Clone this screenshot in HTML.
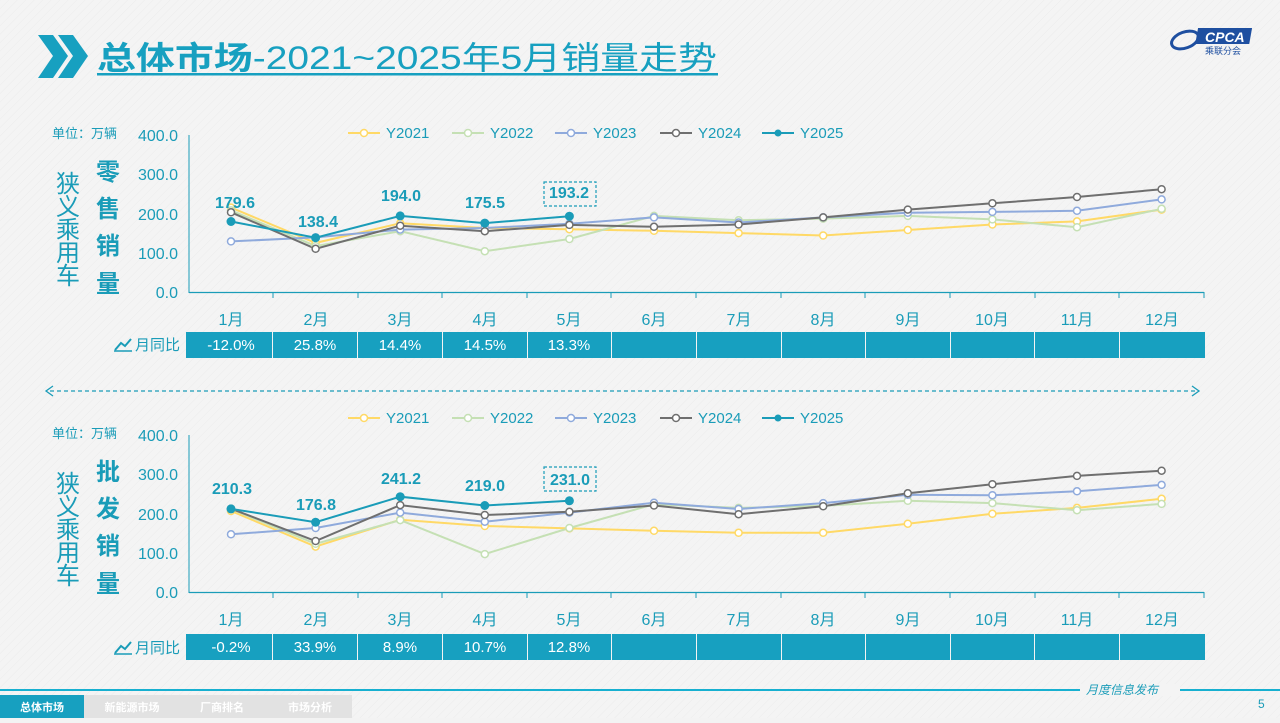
<!DOCTYPE html>
<html><head><meta charset="utf-8"><style>
html,body{margin:0;padding:0;}
body{width:1280px;height:718px;overflow:hidden;background:#f3f3f3;font-family:"Liberation Sans","Noto Sans CJK SC",sans-serif;}
svg text{font-family:"Liberation Sans","Noto Sans CJK SC",sans-serif;}
</style></head><body>
<svg width="1280" height="718" viewBox="0 0 1280 718" xmlns="http://www.w3.org/2000/svg">
<defs>
<pattern id="dg" width="6" height="6" patternUnits="userSpaceOnUse" patternTransform="rotate(-45)"><rect width="6" height="6" fill="#f4f4f4"/><line x1="0" y1="0" x2="6" y2="0" stroke="#ececec" stroke-width="1"/></pattern>
</defs>
<rect width="1280" height="718" fill="url(#dg)"/>
<polygon points="38,35 53,35 68,56 53,78 38,78 53,56" fill="#17a0c0"/>
<polygon points="58,35 73,35 88,56 73,78 58,78 73,56" fill="#17a0c0"/>
<text x="97" y="69" font-size="32" fill="#17a0c0" textLength="620" lengthAdjust="spacingAndGlyphs"><tspan font-weight="bold">总体市场</tspan>-2021~2025年5月销量走势</text>
<rect x="97" y="73" width="621" height="2.5" fill="#17a0c0"/>
<ellipse cx="1185" cy="40" rx="14" ry="8" fill="none" stroke="#1e4fa0" stroke-width="3" transform="rotate(-20 1185 40)"/>
<rect x="1203" y="28" width="54" height="16" fill="#1e4fa0" transform="skewX(-10)"/>
<text x="1205" y="42" font-size="14" font-style="italic" fill="#fff" font-weight="bold">CPCA</text>
<text x="1205" y="54" font-size="9" fill="#1e4fa0">乘联分会</text>

<g font-size="16" fill="#1a9cb8">
<text x="52" y="138" font-size="13">单位：万辆</text>
<text x="178" y="141" text-anchor="end">400.0</text>
<text x="178" y="180" text-anchor="end">300.0</text>
<text x="178" y="220" text-anchor="end">200.0</text>
<text x="178" y="259" text-anchor="end">100.0</text>
<text x="178" y="298" text-anchor="end">0.0</text>
</g>
<g font-size="24" fill="#1a9cb8" text-anchor="middle">
<text x="68" y="192">狭</text><text x="68" y="215">义</text><text x="68" y="238">乘</text><text x="68" y="261">用</text><text x="68" y="284">车</text>
<text x="108" y="180" font-weight="bold">零</text><text x="108" y="217" font-weight="bold">售</text><text x="108" y="254" font-weight="bold">销</text><text x="108" y="292" font-weight="bold">量</text>
</g>
<line x1="189" y1="135" x2="189" y2="293" stroke="#1a9cb8" stroke-width="1"/>
<line x1="189" y1="292.5" x2="1204" y2="292.5" stroke="#1a9cb8" stroke-width="1.2"/>
<g stroke="#1a9cb8"><line x1="273" y1="292" x2="273" y2="298"/><line x1="358" y1="292" x2="358" y2="298"/><line x1="442" y1="292" x2="442" y2="298"/><line x1="527" y1="292" x2="527" y2="298"/><line x1="611" y1="292" x2="611" y2="298"/><line x1="696" y1="292" x2="696" y2="298"/><line x1="781" y1="292" x2="781" y2="298"/><line x1="865" y1="292" x2="865" y2="298"/><line x1="950" y1="292" x2="950" y2="298"/><line x1="1035" y1="292" x2="1035" y2="298"/><line x1="1119" y1="292" x2="1119" y2="298"/><line x1="1204" y1="292" x2="1204" y2="298"/></g>
<g font-size="16" fill="#1a9cb8" text-anchor="middle">
<text x="231" y="325">1月</text><text x="316" y="325">2月</text><text x="400" y="325">3月</text><text x="485" y="325">4月</text><text x="569" y="325">5月</text><text x="654" y="325">6月</text><text x="739" y="325">7月</text><text x="823" y="325">8月</text><text x="908" y="325">9月</text><text x="992" y="325">10月</text><text x="1077" y="325">11月</text><text x="1162" y="325">12月</text>
</g>
<g font-size="15" fill="#1a9cb8">
<line x1="348" y1="133" x2="380" y2="133" stroke="#ffd966" stroke-width="2"/><circle cx="364" cy="133" r="3.5" fill="#fff" stroke="#ffd966" stroke-width="1.5"/><text x="386" y="138">Y2021</text>
<line x1="452" y1="133" x2="484" y2="133" stroke="#c5e0b4" stroke-width="2"/><circle cx="468" cy="133" r="3.5" fill="#fff" stroke="#c5e0b4" stroke-width="1.5"/><text x="490" y="138">Y2022</text>
<line x1="555" y1="133" x2="587" y2="133" stroke="#8faadc" stroke-width="2"/><circle cx="571" cy="133" r="3.5" fill="#fff" stroke="#8faadc" stroke-width="1.5"/><text x="593" y="138">Y2023</text>
<line x1="660" y1="133" x2="692" y2="133" stroke="#6f6f6f" stroke-width="2"/><circle cx="676" cy="133" r="3.5" fill="#fff" stroke="#6f6f6f" stroke-width="1.5"/><text x="698" y="138">Y2024</text>
<line x1="762" y1="133" x2="794" y2="133" stroke="#1a9cb8" stroke-width="2"/><circle cx="778" cy="133" r="3.5" fill="#1a9cb8"/><text x="800" y="138">Y2025</text>
</g>
<g fill="none" stroke-width="2">
<polyline stroke="#ffd966" points="231,207.6 315.6,242.9 400.2,223.3 484.8,228 569.4,229.2 654,230.8 738.6,233.1 823.2,235.5 907.8,230 992.4,224.5 1077,221.4 1161.6,209.6"/>
<polyline stroke="#c5e0b4" points="231,210.4 315.6,246.1 400.2,231.2 484.8,251.2 569.4,239 654,215.9 738.6,220.2 823.2,218.6 907.8,215.9 992.4,219.4 1077,227.2 1161.6,208.8"/>
<polyline stroke="#8faadc" points="231,241.4 315.6,237.4 400.2,229.6 484.8,228 569.4,223.7 654,217.4 738.6,222.5 823.2,217.4 907.8,212.7 992.4,211.9 1077,210.8 1161.6,199.4"/>
<polyline stroke="#6f6f6f" points="231,212.3 315.6,248.8 400.2,225.7 484.8,231.2 569.4,224.9 654,226.8 738.6,224.5 823.2,217.4 907.8,209.6 992.4,203.3 1077,197 1161.6,189.2"/>
<polyline stroke="#1a9cb8" points="231,221.5 315.6,237.7 400.2,215.9 484.8,223.1 569.4,216.2"/>
</g>
<g fill="#fff" stroke-width="1.5">
<g stroke="#ffd966"><circle cx="231" cy="207.6" r="3.5"/><circle cx="315.6" cy="242.9" r="3.5"/><circle cx="400.2" cy="223.3" r="3.5"/><circle cx="484.8" cy="228" r="3.5"/><circle cx="569.4" cy="229.2" r="3.5"/><circle cx="654" cy="230.8" r="3.5"/><circle cx="738.6" cy="233.1" r="3.5"/><circle cx="823.2" cy="235.5" r="3.5"/><circle cx="907.8" cy="230" r="3.5"/><circle cx="992.4" cy="224.5" r="3.5"/><circle cx="1077" cy="221.4" r="3.5"/><circle cx="1161.6" cy="209.6" r="3.5"/></g>
<g stroke="#c5e0b4"><circle cx="231" cy="210.4" r="3.5"/><circle cx="315.6" cy="246.1" r="3.5"/><circle cx="400.2" cy="231.2" r="3.5"/><circle cx="484.8" cy="251.2" r="3.5"/><circle cx="569.4" cy="239" r="3.5"/><circle cx="654" cy="215.9" r="3.5"/><circle cx="738.6" cy="220.2" r="3.5"/><circle cx="823.2" cy="218.6" r="3.5"/><circle cx="907.8" cy="215.9" r="3.5"/><circle cx="992.4" cy="219.4" r="3.5"/><circle cx="1077" cy="227.2" r="3.5"/><circle cx="1161.6" cy="208.8" r="3.5"/></g>
<g stroke="#8faadc"><circle cx="231" cy="241.4" r="3.5"/><circle cx="315.6" cy="237.4" r="3.5"/><circle cx="400.2" cy="229.6" r="3.5"/><circle cx="484.8" cy="228" r="3.5"/><circle cx="569.4" cy="223.7" r="3.5"/><circle cx="654" cy="217.4" r="3.5"/><circle cx="738.6" cy="222.5" r="3.5"/><circle cx="823.2" cy="217.4" r="3.5"/><circle cx="907.8" cy="212.7" r="3.5"/><circle cx="992.4" cy="211.9" r="3.5"/><circle cx="1077" cy="210.8" r="3.5"/><circle cx="1161.6" cy="199.4" r="3.5"/></g>
<g stroke="#6f6f6f"><circle cx="231" cy="212.3" r="3.5"/><circle cx="315.6" cy="248.8" r="3.5"/><circle cx="400.2" cy="225.7" r="3.5"/><circle cx="484.8" cy="231.2" r="3.5"/><circle cx="569.4" cy="224.9" r="3.5"/><circle cx="654" cy="226.8" r="3.5"/><circle cx="738.6" cy="224.5" r="3.5"/><circle cx="823.2" cy="217.4" r="3.5"/><circle cx="907.8" cy="209.6" r="3.5"/><circle cx="992.4" cy="203.3" r="3.5"/><circle cx="1077" cy="197" r="3.5"/><circle cx="1161.6" cy="189.2" r="3.5"/></g>
</g>
<g fill="#1a9cb8"><circle cx="231" cy="221.5" r="4.5"/><circle cx="315.6" cy="237.7" r="4.5"/><circle cx="400.2" cy="215.9" r="4.5"/><circle cx="484.8" cy="223.1" r="4.5"/><circle cx="569.4" cy="216.2" r="4.5"/></g>
<g font-size="16" font-weight="bold" fill="#1a9cb8" text-anchor="middle">
<text x="235" y="208">179.6</text><text x="318" y="227">138.4</text><text x="401" y="201">194.0</text><text x="485" y="208">175.5</text><text x="569" y="198">193.2</text>
</g>
<rect x="544" y="182" width="52" height="24" fill="none" stroke="#1a9cb8" stroke-width="1.2" stroke-dasharray="3,2"/>
<g font-size="15" fill="#1a9cb8"><path d="M115,350 L121,343 L125,346 L131,339" fill="none" stroke="#1a9cb8" stroke-width="2"/><line x1="114" y1="351" x2="132" y2="351" stroke="#1a9cb8" stroke-width="1.5"/><text x="135" y="350">月同比</text></g>
<g fill="#17a0c0">
<rect x="186" y="332" width="86" height="26"/><rect x="273" y="332" width="84" height="26"/><rect x="358" y="332" width="84" height="26"/><rect x="443" y="332" width="84" height="26"/><rect x="528" y="332" width="83" height="26"/><rect x="612" y="332" width="84" height="26"/><rect x="697" y="332" width="84" height="26"/><rect x="782" y="332" width="83" height="26"/><rect x="866" y="332" width="84" height="26"/><rect x="951" y="332" width="83" height="26"/><rect x="1035" y="332" width="84" height="26"/><rect x="1120" y="332" width="85" height="26"/>
</g>
<g font-size="15" fill="#fff" text-anchor="middle"><text x="231" y="350">-12.0%</text><text x="315" y="350">25.8%</text><text x="400" y="350">14.4%</text><text x="485" y="350">14.5%</text><text x="569" y="350">13.3%</text></g>

<line x1="50" y1="391" x2="1195" y2="391" stroke="#1a9cb8" stroke-width="1.3" stroke-dasharray="4,3"/>
<path d="M53,386 L46,391 L53,396" fill="none" stroke="#1a9cb8" stroke-width="1.3"/>
<path d="M1192,386 L1199,391 L1192,396" fill="none" stroke="#1a9cb8" stroke-width="1.3"/>

<g font-size="16" fill="#1a9cb8">
<text x="52" y="438" font-size="13">单位：万辆</text>
<text x="178" y="441" text-anchor="end">400.0</text>
<text x="178" y="480" text-anchor="end">300.0</text>
<text x="178" y="520" text-anchor="end">200.0</text>
<text x="178" y="559" text-anchor="end">100.0</text>
<text x="178" y="598" text-anchor="end">0.0</text>
</g>
<g font-size="24" fill="#1a9cb8" text-anchor="middle">
<text x="68" y="492">狭</text><text x="68" y="515">义</text><text x="68" y="538">乘</text><text x="68" y="561">用</text><text x="68" y="584">车</text>
<text x="108" y="480" font-weight="bold">批</text><text x="108" y="517" font-weight="bold">发</text><text x="108" y="554" font-weight="bold">销</text><text x="108" y="592" font-weight="bold">量</text>
</g>
<line x1="189" y1="435" x2="189" y2="593" stroke="#1a9cb8" stroke-width="1"/>
<line x1="189" y1="592.5" x2="1204" y2="592.5" stroke="#1a9cb8" stroke-width="1.2"/>
<g stroke="#1a9cb8"><line x1="273" y1="592" x2="273" y2="598"/><line x1="358" y1="592" x2="358" y2="598"/><line x1="442" y1="592" x2="442" y2="598"/><line x1="527" y1="592" x2="527" y2="598"/><line x1="611" y1="592" x2="611" y2="598"/><line x1="696" y1="592" x2="696" y2="598"/><line x1="781" y1="592" x2="781" y2="598"/><line x1="865" y1="592" x2="865" y2="598"/><line x1="950" y1="592" x2="950" y2="598"/><line x1="1035" y1="592" x2="1035" y2="598"/><line x1="1119" y1="592" x2="1119" y2="598"/><line x1="1204" y1="592" x2="1204" y2="598"/></g>
<g font-size="16" fill="#1a9cb8" text-anchor="middle">
<text x="231" y="625">1月</text><text x="316" y="625">2月</text><text x="400" y="625">3月</text><text x="485" y="625">4月</text><text x="569" y="625">5月</text><text x="654" y="625">6月</text><text x="739" y="625">7月</text><text x="823" y="625">8月</text><text x="908" y="625">9月</text><text x="992" y="625">10月</text><text x="1077" y="625">11月</text><text x="1162" y="625">12月</text>
</g>
<g font-size="15" fill="#1a9cb8">
<line x1="348" y1="418" x2="380" y2="418" stroke="#ffd966" stroke-width="2"/><circle cx="364" cy="418" r="3.5" fill="#fff" stroke="#ffd966" stroke-width="1.5"/><text x="386" y="423">Y2021</text>
<line x1="452" y1="418" x2="484" y2="418" stroke="#c5e0b4" stroke-width="2"/><circle cx="468" cy="418" r="3.5" fill="#fff" stroke="#c5e0b4" stroke-width="1.5"/><text x="490" y="423">Y2022</text>
<line x1="555" y1="418" x2="587" y2="418" stroke="#8faadc" stroke-width="2"/><circle cx="571" cy="418" r="3.5" fill="#fff" stroke="#8faadc" stroke-width="1.5"/><text x="593" y="423">Y2023</text>
<line x1="660" y1="418" x2="692" y2="418" stroke="#6f6f6f" stroke-width="2"/><circle cx="676" cy="418" r="3.5" fill="#fff" stroke="#6f6f6f" stroke-width="1.5"/><text x="698" y="423">Y2024</text>
<line x1="762" y1="418" x2="794" y2="418" stroke="#1a9cb8" stroke-width="2"/><circle cx="778" cy="418" r="3.5" fill="#1a9cb8"/><text x="800" y="423">Y2025</text>
</g>
<g fill="none" stroke-width="2">
<polyline stroke="#ffd966" points="231,511 315.6,546.6 400.2,519.7 484.8,526 569.4,528.4 654,530.8 738.6,532.8 823.2,532.8 907.8,523.7 992.4,513.8 1077,507.9 1161.6,498.8"/>
<polyline stroke="#c5e0b4" points="231,509 315.6,543.8 400.2,520.1 484.8,554.1 569.4,528 654,504.3 738.6,507.9 823.2,505.9 907.8,500.8 992.4,503.1 1077,510.2 1161.6,503.9"/>
<polyline stroke="#8faadc" points="231,534.3 315.6,528 400.2,512.6 484.8,521.7 569.4,512.6 654,502.7 738.6,509 823.2,503.1 907.8,494.8 992.4,495.2 1077,491.3 1161.6,484.9"/>
<polyline stroke="#6f6f6f" points="231,508.7 315.6,541 400.2,505.1 484.8,515 569.4,511.8 654,505.5 738.6,514.2 823.2,506.3 907.8,493.3 992.4,484.2 1077,475.9 1161.6,470.7"/>
<polyline stroke="#1a9cb8" points="231,508.9 315.6,522.2 400.2,496.7 484.8,505.5 569.4,500.8"/>
</g>
<g fill="#fff" stroke-width="1.5">
<g stroke="#ffd966"><circle cx="231" cy="511" r="3.5"/><circle cx="315.6" cy="546.6" r="3.5"/><circle cx="400.2" cy="519.7" r="3.5"/><circle cx="484.8" cy="526" r="3.5"/><circle cx="569.4" cy="528.4" r="3.5"/><circle cx="654" cy="530.8" r="3.5"/><circle cx="738.6" cy="532.8" r="3.5"/><circle cx="823.2" cy="532.8" r="3.5"/><circle cx="907.8" cy="523.7" r="3.5"/><circle cx="992.4" cy="513.8" r="3.5"/><circle cx="1077" cy="507.9" r="3.5"/><circle cx="1161.6" cy="498.8" r="3.5"/></g>
<g stroke="#c5e0b4"><circle cx="231" cy="509" r="3.5"/><circle cx="315.6" cy="543.8" r="3.5"/><circle cx="400.2" cy="520.1" r="3.5"/><circle cx="484.8" cy="554.1" r="3.5"/><circle cx="569.4" cy="528" r="3.5"/><circle cx="654" cy="504.3" r="3.5"/><circle cx="738.6" cy="507.9" r="3.5"/><circle cx="823.2" cy="505.9" r="3.5"/><circle cx="907.8" cy="500.8" r="3.5"/><circle cx="992.4" cy="503.1" r="3.5"/><circle cx="1077" cy="510.2" r="3.5"/><circle cx="1161.6" cy="503.9" r="3.5"/></g>
<g stroke="#8faadc"><circle cx="231" cy="534.3" r="3.5"/><circle cx="315.6" cy="528" r="3.5"/><circle cx="400.2" cy="512.6" r="3.5"/><circle cx="484.8" cy="521.7" r="3.5"/><circle cx="569.4" cy="512.6" r="3.5"/><circle cx="654" cy="502.7" r="3.5"/><circle cx="738.6" cy="509" r="3.5"/><circle cx="823.2" cy="503.1" r="3.5"/><circle cx="907.8" cy="494.8" r="3.5"/><circle cx="992.4" cy="495.2" r="3.5"/><circle cx="1077" cy="491.3" r="3.5"/><circle cx="1161.6" cy="484.9" r="3.5"/></g>
<g stroke="#6f6f6f"><circle cx="231" cy="508.7" r="3.5"/><circle cx="315.6" cy="541" r="3.5"/><circle cx="400.2" cy="505.1" r="3.5"/><circle cx="484.8" cy="515" r="3.5"/><circle cx="569.4" cy="511.8" r="3.5"/><circle cx="654" cy="505.5" r="3.5"/><circle cx="738.6" cy="514.2" r="3.5"/><circle cx="823.2" cy="506.3" r="3.5"/><circle cx="907.8" cy="493.3" r="3.5"/><circle cx="992.4" cy="484.2" r="3.5"/><circle cx="1077" cy="475.9" r="3.5"/><circle cx="1161.6" cy="470.7" r="3.5"/></g>
</g>
<g fill="#1a9cb8"><circle cx="231" cy="508.9" r="4.5"/><circle cx="315.6" cy="522.2" r="4.5"/><circle cx="400.2" cy="496.7" r="4.5"/><circle cx="484.8" cy="505.5" r="4.5"/><circle cx="569.4" cy="500.8" r="4.5"/></g>
<g font-size="16" font-weight="bold" fill="#1a9cb8" text-anchor="middle">
<text x="232" y="494">210.3</text><text x="316" y="510">176.8</text><text x="401" y="484">241.2</text><text x="485" y="491">219.0</text><text x="570" y="485">231.0</text>
</g>
<rect x="544" y="467" width="52" height="24" fill="none" stroke="#1a9cb8" stroke-width="1.2" stroke-dasharray="3,2"/>
<g font-size="15" fill="#1a9cb8"><path d="M115,653 L121,646 L125,649 L131,642" fill="none" stroke="#1a9cb8" stroke-width="2"/><line x1="114" y1="654" x2="132" y2="654" stroke="#1a9cb8" stroke-width="1.5"/><text x="135" y="653">月同比</text></g>
<g fill="#17a0c0">
<rect x="186" y="634" width="86" height="26"/><rect x="273" y="634" width="84" height="26"/><rect x="358" y="634" width="84" height="26"/><rect x="443" y="634" width="84" height="26"/><rect x="528" y="634" width="83" height="26"/><rect x="612" y="634" width="84" height="26"/><rect x="697" y="634" width="84" height="26"/><rect x="782" y="634" width="83" height="26"/><rect x="866" y="634" width="84" height="26"/><rect x="951" y="634" width="83" height="26"/><rect x="1035" y="634" width="84" height="26"/><rect x="1120" y="634" width="85" height="26"/>
</g>
<g font-size="15" fill="#fff" text-anchor="middle"><text x="231" y="652">-0.2%</text><text x="315" y="652">33.9%</text><text x="400" y="652">8.9%</text><text x="485" y="652">10.7%</text><text x="569" y="652">12.8%</text></g>

<rect x="0" y="689" width="1280" height="2" fill="#17b0d0"/>
<rect x="1080" y="684" width="100" height="12" fill="#f4f4f4"/>
<text x="1086" y="694" font-size="12" font-style="italic" fill="#1a9cb8">月度信息发布</text>
<text x="1258" y="708" font-size="12" fill="#1a9cb8">5</text>
<rect x="0" y="695" width="352" height="23" fill="#e2e2e2"/>
<rect x="0" y="695" width="84" height="23" fill="#17a0c0"/>
<g font-size="11" font-weight="bold" fill="#fff" text-anchor="middle">
<text x="42" y="711">总体市场</text><text x="132" y="711">新能源市场</text><text x="222" y="711">厂商排名</text><text x="310" y="711">市场分析</text>
</g>
</svg>
</body></html>
